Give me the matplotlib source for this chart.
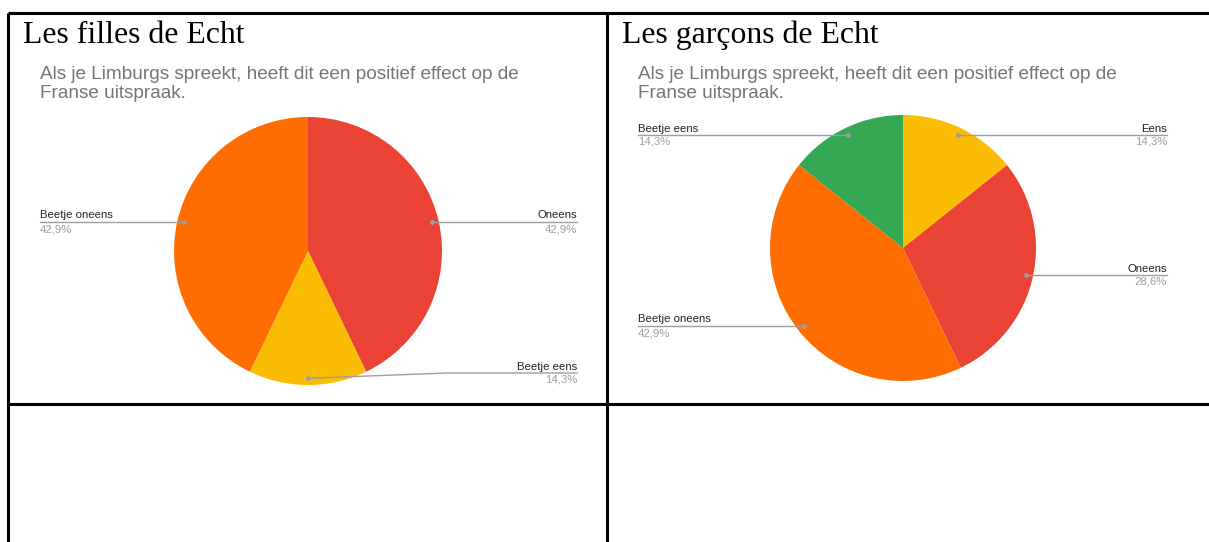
import numpy as np
import matplotlib.pyplot as plt

# data
titles = ["Les filles de Echt", "Les garçons de Echt"]
question = "Als je Limburgs spreekt, heeft dit een positief effect op de\nFranse uitspraak."
girls_labels = ["Oneens", "Beetje eens", "Beetje oneens"]
girls_values = [42.9, 14.3, 42.9]
boys_labels = ["Eens", "Oneens", "Beetje oneens", "Beetje eens"]
boys_values = [14.3, 28.6, 42.9, 14.3]

# google forms palette, applied per slice order
girls_colors = ["#ea4335", "#fbbc04", "#ff6d01"]
boys_colors = ["#fbbc04", "#ea4335", "#ff6d01", "#34a853"]

W, H = 1209, 542
LINE = "#9e9e9e"

fig = plt.figure(figsize=(W / 100, H / 100), dpi=100)
ax = fig.add_axes([0, 0, 1, 1])


def Y(y):
    # image pixel (from top) -> axes coords
    return H - y


def draw_pie(cx, cy, r, labels, values, cols, left_x, right_x, line_y):
    ax.pie(values, colors=cols, startangle=90,
           counterclock=False, center=(cx, Y(cy)), radius=r, frame=True,
           wedgeprops=dict(linewidth=0))
    total = sum(values)
    start = 0.0
    for i, (lab, v) in enumerate(zip(labels, values)):
        mid = (start + v / 2) / total * 360
        start += v
        ang = np.radians(90 - mid)
        dx = cx + 0.95 * r * np.cos(ang)
        dy = cy - 0.95 * r * np.sin(ang)
        ly = line_y[i]
        if abs(ly - dy) < 4:
            dy = ly
        if np.cos(ang) > 0:
            tx, ha = right_x, "right"
            if ly != dy:
                ax.plot([dx, right_x - 130, right_x], [Y(dy), Y(ly), Y(ly)],
                        color=LINE, lw=1, zorder=3)
            else:
                ax.plot([dx, right_x], [Y(ly), Y(ly)], color=LINE, lw=1, zorder=3)
        else:
            tx, ha = left_x, "left"
            ax.plot([left_x, dx], [Y(ly), Y(dy)], color=LINE, lw=1, zorder=3)
        ax.plot(dx, Y(dy), "o", color=LINE, ms=2.5, zorder=4)
        ax.text(tx, Y(ly - 1.5), lab, ha=ha, va="bottom", fontsize=8.2,
                color="#222222", family="Liberation Sans")
        pct = f"{v:.1f}%".replace(".", ",")
        ax.text(tx, Y(ly + 2), pct, ha=ha, va="top", fontsize=8.2,
                color=LINE, family="Liberation Sans")


# left cell
ax.text(23, Y(43), titles[0], fontsize=22.9, family="Liberation Serif",
        color="black", va="baseline")
ax.text(40, Y(66), question, fontsize=13.7, family="Liberation Sans",
        color="#757575", va="top", linespacing=1.12)
draw_pie(308, 251, 134, girls_labels, girls_values, girls_colors,
         40, 577, [222, 373, 222])

# right cell
ax.text(622, Y(43), titles[1], fontsize=22.9, family="Liberation Serif",
        color="black", va="baseline")
ax.text(638, Y(66), question, fontsize=13.7, family="Liberation Sans",
        color="#757575", va="top", linespacing=1.12)
draw_pie(903, 248, 133, boys_labels, boys_values, boys_colors,
         638, 1167, [135, 275, 326, 135])

# table borders
bk = dict(color="black", lw=2.2, solid_capstyle="butt", zorder=5)
ax.plot([7.5, W], [Y(12.5), Y(12.5)], **bk)
ax.plot([7.5, W], [Y(404), Y(404)], **bk)
ax.plot([7.5, 7.5], [Y(12.5), 0], **bk)
ax.plot([606.5, 606.5], [Y(12.5), 0], **bk)

ax.set_xlim(0, W)
ax.set_ylim(0, H)
ax.set_aspect("auto")
ax.axis("off")

fig.savefig("out.png", dpi=100)
